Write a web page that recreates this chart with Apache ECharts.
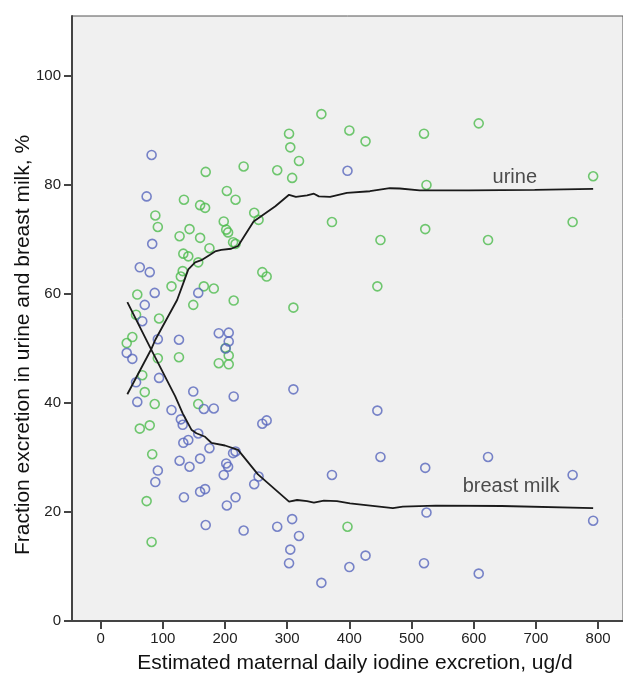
<!DOCTYPE html>
<html>
<head>
<meta charset="utf-8">
<script src="https://cdn.jsdelivr.net/npm/echarts@6/dist/echarts.min.js"></script>
<style>
  html, body { margin: 0; padding: 0; background: #fff; }
  #main { width: 623px; height: 675px; }
</style>
</head>
<body>
<div id="main"></div>
<script>
// one x per mother, urine % and breast milk % at that x
var iodineX = [42, 51, 57, 59, 63, 67, 71, 74, 79, 82, 83, 87, 88, 92, 92, 94,
  114, 126, 127, 129, 132, 133, 134, 141, 143, 149, 157, 157, 160, 160, 166, 168,
  169, 175, 182, 190, 198, 201, 202, 203, 205, 206, 206, 213, 214, 217, 217, 230,
  247, 254, 260, 267, 284, 303, 305, 308, 310, 319, 355, 372, 397, 400, 426, 445,
  450, 520, 522, 524, 608, 623, 759, 792];
var urinePct = [51.0, 52.1, 56.2, 59.9, 35.3, 45.1, 42.0, 22.0, 35.9, 14.5, 30.6, 39.8, 74.4, 72.3, 48.2, 55.5,
  61.4, 48.4, 70.6, 63.2, 64.2, 67.4, 77.3, 66.9, 71.9, 58.0, 65.8, 39.8, 70.3, 76.3, 61.4, 75.8,
  82.4, 68.4, 61.0, 47.3, 73.3, 50.1, 71.8, 78.9, 71.3, 48.7, 47.1, 69.5, 58.8, 77.3, 69.2, 83.4,
  74.9, 73.6, 64.0, 63.2, 82.7, 89.4, 86.9, 81.3, 57.5, 84.4, 93.0, 73.2, 17.3, 90.0, 88.0, 61.4,
  69.9, 89.4, 71.9, 80.0, 91.3, 69.9, 73.2, 81.6];
var milkPct = [49.2, 48.1, 43.8, 40.2, 64.9, 55.0, 58.0, 77.9, 64.0, 85.5, 69.2, 60.2, 25.5, 27.6, 51.7, 44.6,
  38.7, 51.6, 29.4, 37.0, 36.0, 32.7, 22.7, 33.2, 28.3, 42.1, 34.4, 60.2, 29.8, 23.7, 38.9, 24.2,
  17.6, 31.7, 39.0, 52.8, 26.8, 50.0, 28.9, 21.2, 28.3, 51.3, 52.9, 30.8, 41.2, 22.7, 31.1, 16.6,
  25.1, 26.5, 36.2, 36.8, 17.3, 10.6, 13.1, 18.7, 42.5, 15.6, 7.0, 26.8, 82.6, 9.9, 12.0, 38.6,
  30.1, 10.6, 28.1, 19.9, 8.7, 30.1, 26.8, 18.4];

// fit lines
var urineLineX = [43, 82, 88, 123, 133, 141, 152, 162, 176, 184, 194, 210, 221, 246, 281, 303, 314, 332, 343, 351, 369, 396, 433, 465, 481, 513, 592, 698, 792];
var urineLineY = [41.6, 50.0, 51.6, 58.9, 62.0, 64.5, 65.8, 66.2, 67.2, 67.8, 68.1, 68.3, 68.8, 73.3, 76.1, 78.2, 77.8, 78.1, 78.4, 77.9, 77.8, 78.55, 78.85, 79.4, 79.35, 79.0, 79.0, 79.1, 79.3];
var milkLineX = [43, 80, 120, 132, 146, 154, 168, 178, 200, 221, 253, 303, 316, 332, 343, 359, 380, 401, 470, 486, 539, 645, 792];
var milkLineY = [58.5, 50.1, 41.2, 38.1, 35.1, 34.45, 33.8, 32.7, 32.2, 31.4, 26.9, 21.9, 22.2, 22.0, 21.7, 22.1, 22.0, 21.6, 20.7, 21.0, 21.15, 21.1, 20.7];

var xTicks = [0, 100, 200, 300, 400, 500, 600, 700, 800];
var yTicks = [0, 20, 40, 60, 80, 100];

var lineLabels = ['urine', 'breast milk'];
var lineLabelX = [666, 660];
var lineLabelY = [81.4, 24.6];

function zip(a, b) {
  var out = [];
  for (var i = 0; i < a.length; i++) out.push([a[i], b[i]]);
  return out;
}

var font = 'Liberation Sans, Arial, sans-serif';
var myChart = echarts.init(document.getElementById('main'));

var option = {
  animation: false,
  grid: {
    left: 72, top: 16, right: -6, bottom: 54,
    show: true, backgroundColor: '#f0f0f0', borderColor: '#555', borderWidth: 1
  },
  xAxis: {
    type: 'value', min: -46, max: 840,
    splitLine: { show: false },
    axisLine: { onZero: false, lineStyle: { color: '#444', width: 2 } },
    axisTick: { length: 8, lineStyle: { color: '#444', width: 2 }, customValues: xTicks },
    axisLabel: { customValues: xTicks, margin: 10, color: '#222', fontSize: 15, fontFamily: font }
  },
  yAxis: {
    type: 'value', min: 0, max: 111,
    splitLine: { show: false },
    axisLine: { show: true, onZero: false, lineStyle: { color: '#444', width: 2 } },
    axisTick: { show: true, length: 8, lineStyle: { color: '#444', width: 2 }, customValues: yTicks },
    axisLabel: { customValues: yTicks, margin: 11, color: '#222', fontSize: 15, fontFamily: font }
  },
  graphic: [
    {
      type: 'text', x: 355, y: 663,
      style: {
        text: 'Estimated maternal daily iodine excretion, ug/d', fill: '#111',
        font: '21px ' + font, textAlign: 'center', textVerticalAlign: 'middle'
      }
    },
    {
      type: 'text', x: 23, y: 345, rotation: Math.PI / 2,
      style: {
        text: 'Fraction excretion in urine and breast milk, %', fill: '#111',
        font: '21px ' + font, textAlign: 'center', textVerticalAlign: 'middle'
      }
    }
  ],
  series: [
    {
      name: 'urine', type: 'scatter', symbol: 'circle', symbolSize: 9,
      itemStyle: { color: 'rgba(0,0,0,0)', borderColor: '#4dbb4d', borderWidth: 1.6 },
      data: zip(iodineX, urinePct)
    },
    {
      name: 'breast milk', type: 'scatter', symbol: 'circle', symbolSize: 9,
      itemStyle: { color: 'rgba(0,0,0,0)', borderColor: '#5866bd', borderWidth: 1.6 },
      data: zip(iodineX, milkPct)
    },
    {
      name: 'urine fit', type: 'line', showSymbol: false, z: 5,
      lineStyle: { color: '#1a1a1a', width: 1.8 },
      data: zip(urineLineX, urineLineY)
    },
    {
      name: 'milk fit', type: 'line', showSymbol: false, z: 5,
      lineStyle: { color: '#1a1a1a', width: 1.8 },
      data: zip(milkLineX, milkLineY)
    },
    {
      name: 'labels', type: 'scatter', symbol: 'circle', symbolSize: 0, z: 6,
      itemStyle: { color: 'rgba(0,0,0,0)' },
      label: {
        show: true, position: 'inside', color: '#222', fontSize: 20, fontFamily: font,
        formatter: function (p) { return lineLabels[p.dataIndex]; }
      },
      data: zip(lineLabelX, lineLabelY)
    }
  ]
};

myChart.setOption(option);
</script>
</body>
</html>
